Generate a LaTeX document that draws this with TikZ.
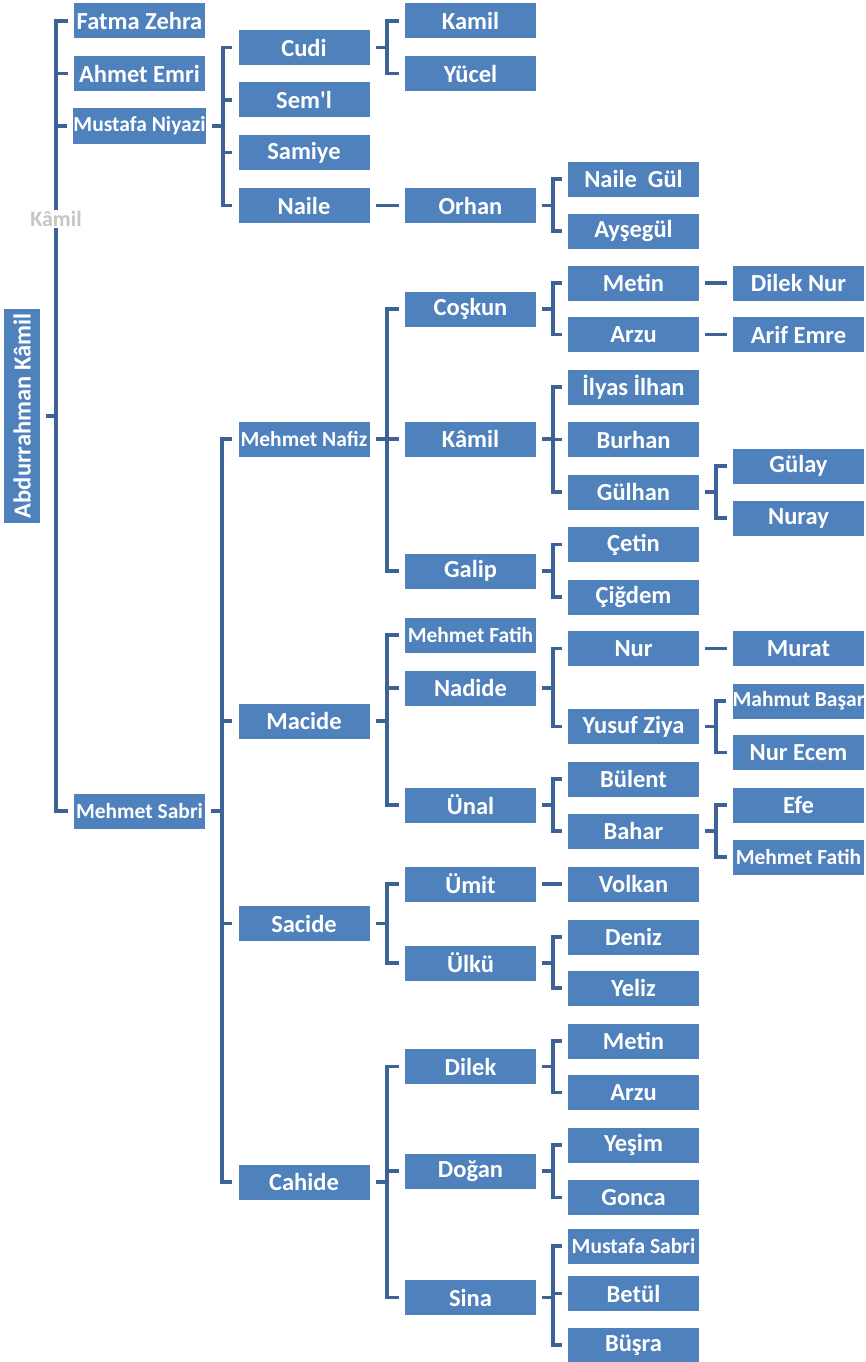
\documentclass[tikz,border=0pt]{standalone}
\usepackage{fontspec}
\setmainfont{Carlito}[Ligatures=TeXOff]
\usepackage{tikz}

\definecolor{boxblue}{HTML}{4F81BD}
\definecolor{lineblue}{HTML}{3D6396}

\begin{document}
\begin{tikzpicture}[x=1pt,y=-1pt,
    person/.style={fill=boxblue, text=white, minimum width=131pt, minimum height=35pt, inner sep=0pt, font=\bfseries\fontsize{24.5}{26}\selectfont},
    longname/.style={person, font=\bfseries\fontsize{21.5}{23}\selectfont},
    link/.style={draw=lineblue, line width=3.8pt, shorten <=6pt, shorten >=6pt}]
    \useasboundingbox (0,0) rectangle (866,1362);
    % root
    \node [person, rotate=90, minimum width=214pt, minimum height=36pt] (abd) at (22,416) {Abdurrahman Kâmil};
    % first generation
    \node [person] (fatma) at (139.5,21) {Fatma Zehra};
    \node [person] (ahmet) at (139.5,73.5) {Ahmet Emri};
    \node [longname] (mustafa) at (139.5,126) {Mustafa Niyazi};
    \node [longname] (sabri) at (139.5,811) {Mehmet Sabri};
    % second generation
    \node [person] (cudi) at (304,47.5) {Cudi};
    \node [person] (semi) at (304,100) {Sem'l};
    \node [person] (samiye) at (304,152.5) {Samiye};
    \node [person] (naile) at (304,205.5) {Naile};
    \node [longname] (nafiz) at (304,439) {Mehmet Nafiz};
    \node [person] (macide) at (304,721) {Macide};
    \node [person] (sacide) at (304,923.5) {Sacide};
    \node [person] (cahide) at (304,1182) {Cahide};
    % third generation
    \node [person] (kamilA) at (470.5,21) {Kamil};
    \node [person] (yucel) at (470.5,73.5) {Yücel};
    \node [person] (orhan) at (470.5,205.5) {Orhan};
    \node [person] (coskun) at (470.5,309) {Coşkun};
    \node [person] (kamilB) at (470.5,439) {Kâmil};
    \node [person] (galip) at (470.5,571) {Galip};
    \node [longname] (fatihA) at (470.5,635) {Mehmet Fatih};
    \node [person] (nadide) at (470.5,688) {Nadide};
    \node [person] (unal) at (470.5,805) {Ünal};
    \node [person] (umit) at (470.5,884) {Ümit};
    \node [person] (ulku) at (470.5,963) {Ülkü};
    \node [person] (dilek) at (470.5,1066.5) {Dilek};
    \node [person] (dogan) at (470.5,1171) {Doğan};
    \node [person] (sina) at (470.5,1297.5) {Sina};
    % fourth generation
    \node [person] (nailegul) at (633.5,179) {Naile~ Gül};
    \node [person] (aysegul) at (633.5,231) {Ayşegül};
    \node [person] (metinA) at (633.5,283) {Metin};
    \node [person] (arzuA) at (633.5,334.5) {Arzu};
    \node [person] (ilyas) at (633.5,387) {İlyas İlhan};
    \node [person] (burhan) at (633.5,439.5) {Burhan};
    \node [person] (gulhan) at (633.5,492) {Gülhan};
    \node [person] (cetin) at (633.5,544.5) {Çetin};
    \node [person] (cigdem) at (633.5,597) {Çiğdem};
    \node [person] (nur) at (633.5,648.5) {Nur};
    \node [person] (yusuf) at (633.5,726.5) {Yusuf Ziya};
    \node [person] (bulent) at (633.5,779) {Bülent};
    \node [person] (bahar) at (633.5,831) {Bahar};
    \node [person] (volkan) at (633.5,884) {Volkan};
    \node [person] (deniz) at (633.5,937) {Deniz};
    \node [person] (yeliz) at (633.5,988) {Yeliz};
    \node [person] (metinB) at (633.5,1041) {Metin};
    \node [person] (arzuB) at (633.5,1092.5) {Arzu};
    \node [person] (yesim) at (633.5,1145) {Yeşim};
    \node [person] (gonca) at (633.5,1197.5) {Gonca};
    \node [longname] (mustafaS) at (633.5,1246) {Mustafa Sabri};
    \node [person] (betul) at (633.5,1293.5) {Betül};
    \node [person] (busra) at (633.5,1345) {Büşra};
    % fifth generation
    \node [person] (dilekNur) at (798.5,283) {Dilek Nur};
    \node [person] (arifEmre) at (798.5,334.5) {Arif Emre};
    \node [person] (gulay) at (798.5,466) {Gülay};
    \node [person] (nuray) at (798.5,518) {Nuray};
    \node [person] (murat) at (798.5,648.5) {Murat};
    \node [longname] (mahmut) at (798.5,701) {Mahmut Başar};
    \node [person] (nurEcem) at (798.5,752.5) {Nur Ecem};
    \node [person] (efe) at (798.5,805) {Efe};
    \node [longname] (fatihB) at (798.5,857) {Mehmet Fatih};
    % connectors
    \foreach \c in {fatma,ahmet,mustafa,sabri}
        \draw [link] (abd.south) -- ++(16pt,0) |- (\c.west);
    \foreach \p/\c in {mustafa/cudi,mustafa/semi,mustafa/samiye,mustafa/naile,
        cudi/kamilA,cudi/yucel,naile/orhan,orhan/nailegul,orhan/aysegul,
        sabri/nafiz,sabri/macide,sabri/sacide,sabri/cahide,
        nafiz/coskun,nafiz/kamilB,nafiz/galip,
        coskun/metinA,coskun/arzuA,metinA/dilekNur,arzuA/arifEmre,
        kamilB/ilyas,kamilB/burhan,kamilB/gulhan,gulhan/gulay,gulhan/nuray,
        galip/cetin,galip/cigdem,
        macide/fatihA,macide/nadide,macide/unal,
        nadide/nur,nadide/yusuf,nur/murat,yusuf/mahmut,yusuf/nurEcem,
        unal/bulent,unal/bahar,bahar/efe,bahar/fatihB,
        sacide/umit,sacide/ulku,umit/volkan,ulku/deniz,ulku/yeliz,
        cahide/dilek,cahide/dogan,cahide/sina,
        dilek/metinB,dilek/arzuB,dogan/yesim,dogan/gonca,
        sina/mustafaS,sina/betul,sina/busra}
        \draw [link] (\p.east) -- ++(17pt,0) |- (\c.west);
    % label on the bus
    \node [fill=white, text=gray!45, inner sep=1pt, font=\bfseries\fontsize{22}{24}\selectfont] (kamilLabel) at (56,219) {Kâmil};
\end{tikzpicture}
\end{document}
